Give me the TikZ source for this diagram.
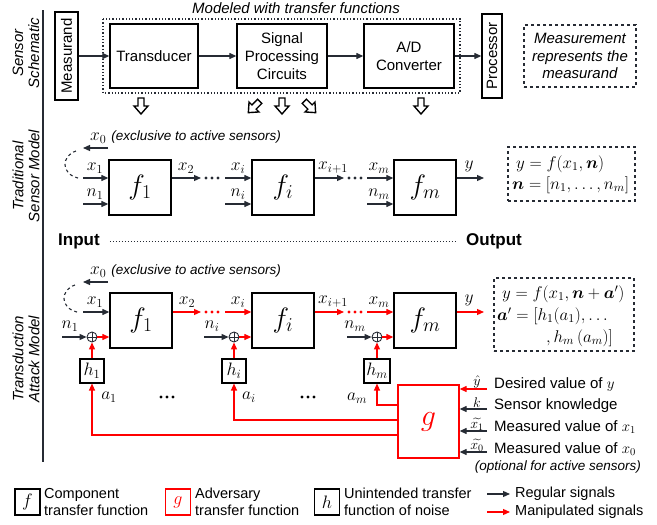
\documentclass[tikz,border=0pt]{standalone}
\usepackage{fix-cm}
\usepackage{fontspec}
\setmainfont{Liberation Sans}
\usepackage{amsmath}
\usetikzlibrary{arrows.meta}
\definecolor{ink}{RGB}{38,43,52}
\definecolor{rd}{RGB}{255,0,0}
\newcommand{\fsz}[1]{\fontsize{#1}{#1}\selectfont}
\tikzset{
 box/.style={draw=black, line width=1.3pt, inner sep=2pt, align=center, font=\fontsize{15}{18}\selectfont},
 fbox/.style={box, minimum width=62, minimum height=55, font=\fsz{28}},
 hbox/.style={draw=black, line width=1.1pt, minimum width=24, minimum height=24, inner sep=0pt, font=\fsz{18}},
 arr/.style={draw=ink, line width=1.2pt, -{Triangle[length=7pt,width=6pt]}},
 rarr/.style={draw=rd, line width=1.2pt, -{Triangle[length=7pt,width=6pt]}},
 lab/.style={inner sep=0pt, font=\fsz{17.5}},
 glab/.style={inner sep=0pt, anchor=south, font=\fsz{14}},
 txt/.style={inner sep=0pt, anchor=west, align=left, font=\fontsize{15}{18}\selectfont},
 legtxt/.style={inner sep=0pt, anchor=west, align=left, font=\fontsize{14.5}{16.5}\selectfont},
 sect/.style={rotate=90, align=center, inner sep=0pt, font=\fontsize{15}{16}\selectfont\itshape},
 opl/.style={circle, draw=ink, line width=0.9pt, minimum size=10pt, inner sep=0pt},
 dbox/.style={draw=ink, dashed, line width=1.1pt},
 eqtxt/.style={inner sep=0pt, anchor=west, font=\fsz{17}},
 harrow/.pic={\draw[line width=1.4pt, fill=white, draw=black] (-3,-8) -- (3,-8) -- (3,0) -- (7,0) -- (0,8) -- (-7,0) -- (-3,0) -- cycle;},
 dotrow/.pic={\fill (-6,0) circle (1.6) (0,0) circle (1.6) (6,0) circle (1.6);},
}
\begin{document}
\begin{tikzpicture}[x=1pt,y=-1pt]
\useasboundingbox (0,0) rectangle (657,525);
% section labels and left rule
\draw[ink, line width=1.2pt] (43,10) -- (43,462);
\node[sect] (s1) at (26,53) {Sensor\\Schematic};
\node[sect] (s2) at (26,176) {Traditional\\Sensor Model};
\node[sect] (s3) at (26,359) {Transduction\\Attack Model};

% ---------- sensor schematic ----------
\draw[ink, dotted, line width=1.3pt] (103,19) rectangle (460,93);
\node[inner sep=0pt, font=\fontsize{15}{18}\selectfont\itshape] (mod) at (296,8) {Modeled with transfer functions};
\node[box, rotate=90, minimum width=88, minimum height=23, inner sep=1pt] (meas) at (66.5,56) {Measurand};
\node[box, minimum width=88, minimum height=64] (trans) at (154,56) {Transducer};
\node[box, minimum width=90, minimum height=64] (spc) at (282,56) {Signal\\Processing\\Circuits};
\node[box, minimum width=90, minimum height=64] (adc) at (409,56) {A/D\\Converter};
\node[box, rotate=90, minimum width=84, minimum height=20, inner sep=1pt] (proc) at (492,56) {Processor};
\node[dbox, minimum width=112, minimum height=62, align=center, font=\fontsize{15}{17.5}\selectfont\itshape] (mrep) at (580,56) {Measurement\\represents the\\measurand};
\draw[arr] (meas) -- (trans);
\draw[arr] (trans) -- (spc);
\draw[arr] (spc) -- (adc);
\draw[arr] (adc) -- (proc);
\pic at (141,106) {harrow};
\pic[rotate=-45] at (254,107) {harrow};
\pic at (282,106) {harrow};
\pic[rotate=45] at (310,107) {harrow};
\pic at (421,106) {harrow};

% ---------- traditional sensor model ----------
\node[anchor=west, inner sep=0pt] (tx0l) at (90,137) {\fsz{17.5}$x_0$ \fontsize{13.5}{16}\selectfont\itshape (exclusive to active sensors)};
\coordinate (tx0a) at (108,148); \coordinate (tx0b) at (83,148);
\draw[arr] (tx0a) -- (tx0b);
\draw[ink, dashed, line width=1.1pt] (76,151) .. controls (61,156) and (61,174) .. (78,178);
\node[fbox] (f1t) at (140,187.5) {$f_1$};
\node[fbox] (fit) at (283,187.5) {$f_i$};
\node[fbox] (fmt) at (425,187.5) {$f_m$};
\coordinate (tx1) at (83,178); \coordinate (tn1) at (83,204);
\draw[arr] (tx1) -- (tx1 -| f1t.west);
\draw[arr] (tn1) -- (tn1 -| f1t.west);
\node[lab] (ltx1) at (95,168) {$x_1$};
\node[lab] (ltn1) at (95,194) {$n_1$};
\coordinate (tx2) at (201,178);
\draw[arr] (tx1 -| f1t.east) -- (tx2);
\node[lab] (ltx2) at (186,168) {$x_2$};
\pic[ink] at (212,178) {dotrow};
\coordinate (txi) at (225,178); \coordinate (tni) at (225,204);
\draw[arr] (txi) -- (txi -| fit.west);
\draw[arr] (tni) -- (tni -| fit.west);
\node[lab] (ltxi) at (238,168) {$x_i$};
\node[lab] (ltni) at (238,194) {$n_i$};
\coordinate (txi1) at (344,178);
\draw[arr] (txi -| fit.east) -- (txi1);
\node[lab] (ltxi1) at (333,168) {$x_{i+1}$};
\pic[ink] at (355,178) {dotrow};
\coordinate (txm) at (367,178); \coordinate (tnm) at (367,204);
\draw[arr] (txm) -- (txm -| fmt.west);
\draw[arr] (tnm) -- (tnm -| fmt.west);
\node[lab] (ltxm) at (379,168) {$x_m$};
\node[lab] (ltnm) at (379,194) {$n_m$};
\coordinate (ty) at (484,178);
\draw[arr] (txm -| fmt.east) -- (ty);
\node[lab] (lty) at (469,166) {$y$};
\node[dbox, minimum width=127, minimum height=54] (eqt) at (571.5,174) {};
\node[eqtxt] (eqt1) at (516,164) {$y = f(x_1,\boldsymbol{n})$};
\node[eqtxt] (eqt2) at (512,185) {$\boldsymbol{n}=[n_1,\dots,n_m]$};

\node[inner sep=0pt, font=\fsz{17}\bfseries] (inp) at (79,241) {Input};
\node[inner sep=0pt, font=\fsz{17}\bfseries] (outp) at (494,241) {Output};
\path (inp.east) ++(10,0) coordinate (io1) (outp.west) ++(-10,0) coordinate (io2);
\draw[ink, dotted, line width=1pt] (io1) -- (io2);

% ---------- transduction attack model ----------
\node[anchor=west, inner sep=0pt] (ax0l) at (90,271) {\fsz{17.5}$x_0$ \fontsize{13.5}{16}\selectfont\itshape (exclusive to active sensors)};
\coordinate (ax0a) at (108,282); \coordinate (ax0b) at (83,282);
\draw[arr] (ax0a) -- (ax0b);
\draw[ink, dashed, line width=1.1pt] (75,285) .. controls (60,290) and (60,308) .. (77,312);
\node[fbox] (f1a) at (141,320.5) {$f_1$};
\node[fbox] (fia) at (283,320.5) {$f_i$};
\node[fbox] (fma) at (425,320.5) {$f_m$};
\coordinate (ax1) at (83,312);
\draw[arr] (ax1) -- (ax1 -| f1a.west);
\node[lab] (lax1) at (95,302) {$x_1$};
\coordinate (ax2) at (201,312);
\draw[rarr] (ax1 -| f1a.east) -- (ax2);
\node[lab] (lax2) at (187,302) {$x_2$};
\pic[rd] at (212,312) {dotrow};
\coordinate (axi) at (225,312);
\draw[rarr] (axi) -- (axi -| fia.west);
\node[lab] (laxi) at (238,302) {$x_i$};
\coordinate (axi1) at (344,312);
\draw[rarr] (axi -| fia.east) -- (axi1);
\node[lab] (laxi1) at (333,302) {$x_{i+1}$};
\pic[rd] at (355,312) {dotrow};
\coordinate (axm) at (367,312);
\draw[rarr] (axm) -- (axm -| fma.west);
\node[lab] (laxm) at (379,302) {$x_m$};
\coordinate (ay) at (484,312);
\draw[rarr] (axm -| fma.east) -- (ay);
\node[lab] (lay) at (469,300) {$y$};

% oplus nodes
\node[opl] (p1) at (92,337) {};
\node[opl] (pi) at (234,337) {};
\node[opl] (pm) at (377,337) {};
\draw[ink, line width=0.9pt] (p1.north) -- (p1.south) (p1.east) -- (p1.west);
\draw[ink, line width=0.9pt] (pi.north) -- (pi.south) (pi.east) -- (pi.west);
\draw[ink, line width=0.9pt] (pm.north) -- (pm.south) (pm.east) -- (pm.west);
\coordinate (an1) at (62,337); \coordinate (ani) at (204,337); \coordinate (anm) at (347,337);
\draw[arr] (an1) -- (p1.west);
\draw[arr] (ani) -- (pi.west);
\draw[arr] (anm) -- (pm.west);
\node[lab] (lan1) at (70,326) {$n_1$};
\node[lab] (lani) at (212,326) {$n_i$};
\node[lab] (lanm) at (355,326) {$n_m$};
\draw[rarr] (p1.east) -- (p1 -| f1a.west);
\draw[rarr] (pi.east) -- (pi -| fia.west);
\draw[rarr] (pm.east) -- (pm -| fma.west);

% h boxes
\node[hbox] (h1) at (92,371) {$h_1$};
\node[hbox] (hi) at (234,371) {$h_i$};
\node[hbox, minimum width=26] (hm) at (377,371) {$h_m$};
\draw[rarr] (h1) -- (p1);
\draw[rarr] (hi) -- (pi);
\draw[rarr] (hm) -- (pm);

% g box
\node[draw=rd, line width=1.3pt, minimum width=61, minimum height=73, inner sep=0pt, font=\fsz{30}, text=rd] (g) at (428.5,421.5) {$g$};
\coordinate (a1c) at (92,435); \coordinate (aic) at (234,420); \coordinate (amc) at (377,405);
\draw[rarr] (a1c -| g.west) -- (a1c) -- (h1.south);
\draw[rarr] (aic -| g.west) -- (aic) -- (hi.south);
\draw[rarr] (amc -| g.west) -- (amc) -- (hm.south);
\node[lab] (la1) at (109,397) {$a_1$};
\node[lab] (lai) at (249,397) {$a_i$};
\node[lab] (lam) at (357,398) {$a_m$};
\pic[black] at (167,397) {dotrow};
\pic[black] at (308,397) {dotrow};

% inputs to g
\coordinate (gy) at (487,389); \coordinate (gk) at (487,409);
\coordinate (gx1) at (487,431); \coordinate (gx0) at (487,452);
\draw[rarr] (gy) -- (gy -| g.east);
\draw[arr] (gk) -- (gk -| g.east);
\draw[arr] (gx1) -- (gx1 -| g.east);
\draw[arr] (gx0) -- (gx0 -| g.east);
\node[glab] (lgy) at (477,388) {$\hat{y}$};
\node[glab] (lgk) at (477,407.5) {$k$};
\node[glab] (lgx1) at (477,430.5) {$\widetilde{x_1}$};
\node[glab] (lgx0) at (477,451.5) {$\widetilde{x_0}$};
\node[txt] (tgy) at (494,385) {Desired value of $y$};
\node[txt] (tgk) at (494,406) {Sensor knowledge};
\node[txt] (tgx1) at (494,427) {Measured value of $x_1$};
\node[txt] (tgx0) at (494,449) {Measured value of $x_0$};
\node[inner sep=0pt, anchor=east, font=\fontsize{13.5}{16}\selectfont\itshape] (topt) at (641,467) {(optional for active sensors)};

% attack equation box
\node[dbox, minimum width=140, minimum height=73] (eqa) at (564,314.5) {};
\node[eqtxt] (eqa1) at (502,294) {$y = f(x_1,\boldsymbol{n}+\boldsymbol{a}')$};
\node[eqtxt] (eqa2) at (497,316) {$\boldsymbol{a}' = [h_1(a_1),\dots$};
\node[eqtxt] (eqa3) at (546,338) {$,h_m\,(a_m)]$};

% ---------- legend ----------
\node[hbox, minimum width=25, minimum height=26] (lf) at (27.5,502) {$f$};
\node[legtxt] (lft) at (44,502) {Component\\transfer function};
\node[hbox, draw=rd, minimum width=25, minimum height=26, text=rd] (lg) at (178,502) {$g$};
\node[legtxt] (lgt) at (195,502) {Adversary\\transfer function};
\node[hbox, minimum width=25, minimum height=26] (lh) at (327,502) {$h$};
\node[legtxt] (lht) at (344,502) {Unintended transfer\\function of noise};
\coordinate (lr1) at (487,494); \coordinate (lr2) at (510,494);
\coordinate (lm1) at (487,512); \coordinate (lm2) at (510,512);
\draw[arr] (lr1) -- (lr2);
\draw[rarr] (lm1) -- (lm2);
\node[legtxt] (lrt) at (515,494) {Regular signals};
\node[legtxt] (lmt) at (515,512) {Manipulated signals};
\end{tikzpicture}
\end{document}
